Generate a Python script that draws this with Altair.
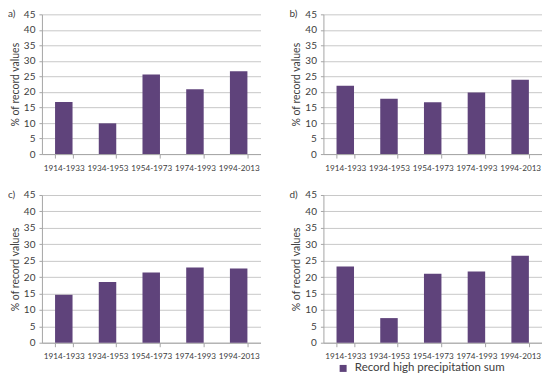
import altair as alt
import pandas as pd

periods = ["1914-1933", "1934-1953", "1954-1973", "1974-1993", "1994-2013"]
vals_a = [16.8, 9.9, 25.6, 20.9, 26.7]
vals_b = [22.0, 17.8, 16.7, 19.8, 23.9]
vals_c = [14.6, 18.5, 21.4, 22.9, 22.6]
vals_d = [23.2, 7.5, 21.0, 21.7, 26.5]
panel_labels = ["a)", "b)", "c)", "d)"]
y_ticks = [0, 5, 10, 15, 20, 25, 30, 35, 40, 45]
series_name = "Record high precipitation sum"

FONT = "Lato"
BAR = "#5f437b"
TXT = "#404040"
W = 219
H_TOP = 140
H_BOT = 148


def panel(vals, label, h, show_legend):
    df = pd.DataFrame({"period": periods, "value": vals, "series": series_name})
    x = alt.X(
        "period:N", sort=periods, title=None,
        scale=alt.Scale(paddingInner=0.6, paddingOuter=0.3),
        axis=alt.Axis(labelAngle=0, labelFontSize=8.2, labelColor=TXT, labelFont=FONT,
                      domainColor="#a6a6a6", tickColor="#a6a6a6", tickBand="extent",
                      tickSize=4, labelPadding=6, grid=False),
    )
    y = alt.Y(
        "value:Q", title="% of record values",
        scale=alt.Scale(domain=[0, 45], nice=False),
        axis=alt.Axis(values=y_ticks, labelFontSize=10, labelColor=TXT, labelFont=FONT,
                      titleFont=FONT, titleFontSize=10.5, titleFontWeight="normal", titleColor=TXT,
                      domainColor="#a6a6a6", tickColor="#a6a6a6", tickSize=3,
                      gridColor="#c8c8c8", labelPadding=4, titlePadding=3),
    )
    if show_legend:
        legend = alt.Legend(title=None, orient="none", legendX=14, legendY=h + 20,
                            symbolType="square", symbolSize=49, symbolStrokeWidth=0,
                            labelFont=FONT, labelFontSize=11.5, labelColor=TXT, labelOffset=6,
                            padding=0)
    else:
        legend = None
    bars = alt.Chart(df).mark_bar().encode(
        x=x, y=y,
        color=alt.Color("series:N", scale=alt.Scale(domain=[series_name], range=[BAR]), legend=legend),
    )
    lab = alt.Chart(alt.Data(values=[{"lab": label}])).mark_text(
        align="left", baseline="middle", fontSize=10, font=FONT, color=TXT
    ).encode(x=alt.value(-34), y=alt.value(0), text="lab:N")
    return alt.layer(bars, lab).properties(width=W, height=h)


chart = alt.concat(
    panel(vals_a, panel_labels[0], H_TOP, False),
    panel(vals_b, panel_labels[1], H_TOP, False),
    panel(vals_c, panel_labels[2], H_BOT, False),
    panel(vals_d, panel_labels[3], H_BOT, True),
    columns=2, spacing={"row": 18, "column": 29},
).resolve_legend(color="independent").properties(
    padding={"left": 0, "top": 1, "right": 0, "bottom": 0}
).configure_view(stroke=None)

chart.save("out.html", embed_options={"renderer": "svg", "actions": False})
